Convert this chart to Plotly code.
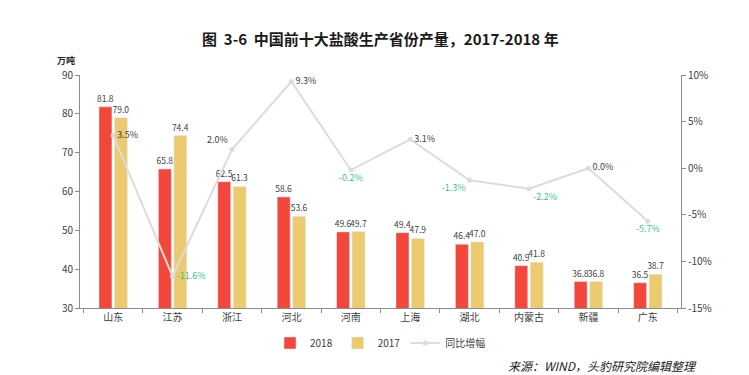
import plotly.graph_objects as go

provinces = ["山东", "江苏", "浙江", "河北", "河南", "上海", "湖北", "内蒙古", "新疆", "广东"]
output_2018 = [81.8, 65.8, 62.5, 58.6, 49.6, 49.4, 46.4, 40.9, 36.8, 36.5]
output_2017 = [79.0, 74.4, 61.3, 53.6, 49.7, 47.9, 47.0, 41.8, 36.8, 38.7]
yoy_growth = [3.5, -11.6, 2.0, 9.3, -0.2, 3.1, -1.3, -2.2, 0.0, -5.7]
left_ticks = [30, 40, 50, 60, 70, 80, 90]
right_ticks = [-15, -10, -5, 0, 5, 10]

FONT = "Noto Sans CJK SC, Noto Sans, sans-serif"
RED = "#f2473a"
GOLD = "#ebca70"
LINE = "#dcdcdc"
GREEN = "#3cc48e"
TXT = "#404040"

label_pos = ["middle right", "middle right", "top left", "middle right", "bottom center",
             "middle right", "bottom left", "bottom right", "middle right", "bottom center"]
label_col = [GREEN if v < 0 else TXT for v in yoy_growth]

fig = go.Figure()
fig.add_trace(go.Bar(
    x=provinces, y=output_2018, name="2018", marker_color=RED,
    text=[f"{v:.1f}" for v in output_2018], textposition="outside", constraintext="none",
    textfont=dict(size=8.5, color=TXT, family=FONT), cliponaxis=False,
))
fig.add_trace(go.Bar(
    x=provinces, y=output_2017, name="2017", marker_color=GOLD,
    text=[f"{v:.1f}" for v in output_2017], textposition="outside", constraintext="none",
    textfont=dict(size=8.5, color=TXT, family=FONT), cliponaxis=False,
))
fig.add_trace(go.Scatter(
    x=provinces, y=yoy_growth, name="同比增幅", yaxis="y2",
    mode="lines+markers+text",
    line=dict(color=LINE, width=2), marker=dict(color=LINE, size=5),
    text=[f"{v:.1f}%" for v in yoy_growth], textposition=label_pos,
    textfont=dict(size=9, color=label_col, family=FONT), cliponaxis=False,
))

fig.update_layout(
    width=749, height=375,
    margin=dict(l=72, r=76, t=67, b=75),
    paper_bgcolor="white", plot_bgcolor="white",
    font=dict(family=FONT, size=10, color=TXT),
    barmode="group", bargap=0.48, bargroupgap=0.16,
    showlegend=True,
    legend=dict(orientation="h", x=0.5, xanchor="center", y=-0.15, yanchor="middle",
                font=dict(size=10, color=TXT), itemwidth=30, tracegroupgap=0),
    xaxis=dict(showline=True, linecolor="#8c8c8c", linewidth=1, ticks="outside",
               tickson="boundaries", ticklen=4, tickcolor="#8c8c8c",
               tickfont=dict(size=10, color=TXT), showgrid=False),
    yaxis=dict(range=[30, 90], tickvals=left_ticks, showline=True, linecolor="#8c8c8c",
               ticks="outside", ticklen=4, tickcolor="#8c8c8c", showgrid=False,
               zeroline=False, tickfont=dict(size=10, color=TXT)),
    yaxis2=dict(range=[-15, 10], tickmode="array", tickvals=right_ticks,
                ticktext=[f"{v}%" for v in right_ticks], overlaying="y",
                side="right", showline=True, linecolor="#8c8c8c", ticks="outside",
                ticklen=4, tickcolor="#8c8c8c", showgrid=False, zeroline=False,
                tickfont=dict(size=10, color=TXT)),
    annotations=[
        dict(text="<b>图  3-6  中国前十大盐酸生产省份产量，2017-2018 年</b>", xref="paper",
             yref="paper", x=0.5, y=1 + (67 - 30) / 233, xanchor="center", yanchor="middle",
             showarrow=False, font=dict(size=15, color="#1a1a1a", family=FONT)),
        dict(text="<b>万吨</b>", xref="paper", yref="paper", x=-0.023, y=1.064,
             xanchor="center", yanchor="middle", showarrow=False,
             font=dict(size=9, color="#262626", family=FONT)),
        dict(text="<i>来源：WIND，头豹研究院编辑整理</i>", xref="paper", yref="paper",
             x=1.03, y=-0.245, xanchor="right", yanchor="middle", showarrow=False,
             font=dict(size=12, color="#1a1a1a", family=FONT)),
    ],
)

fig.write_html("out.html")
